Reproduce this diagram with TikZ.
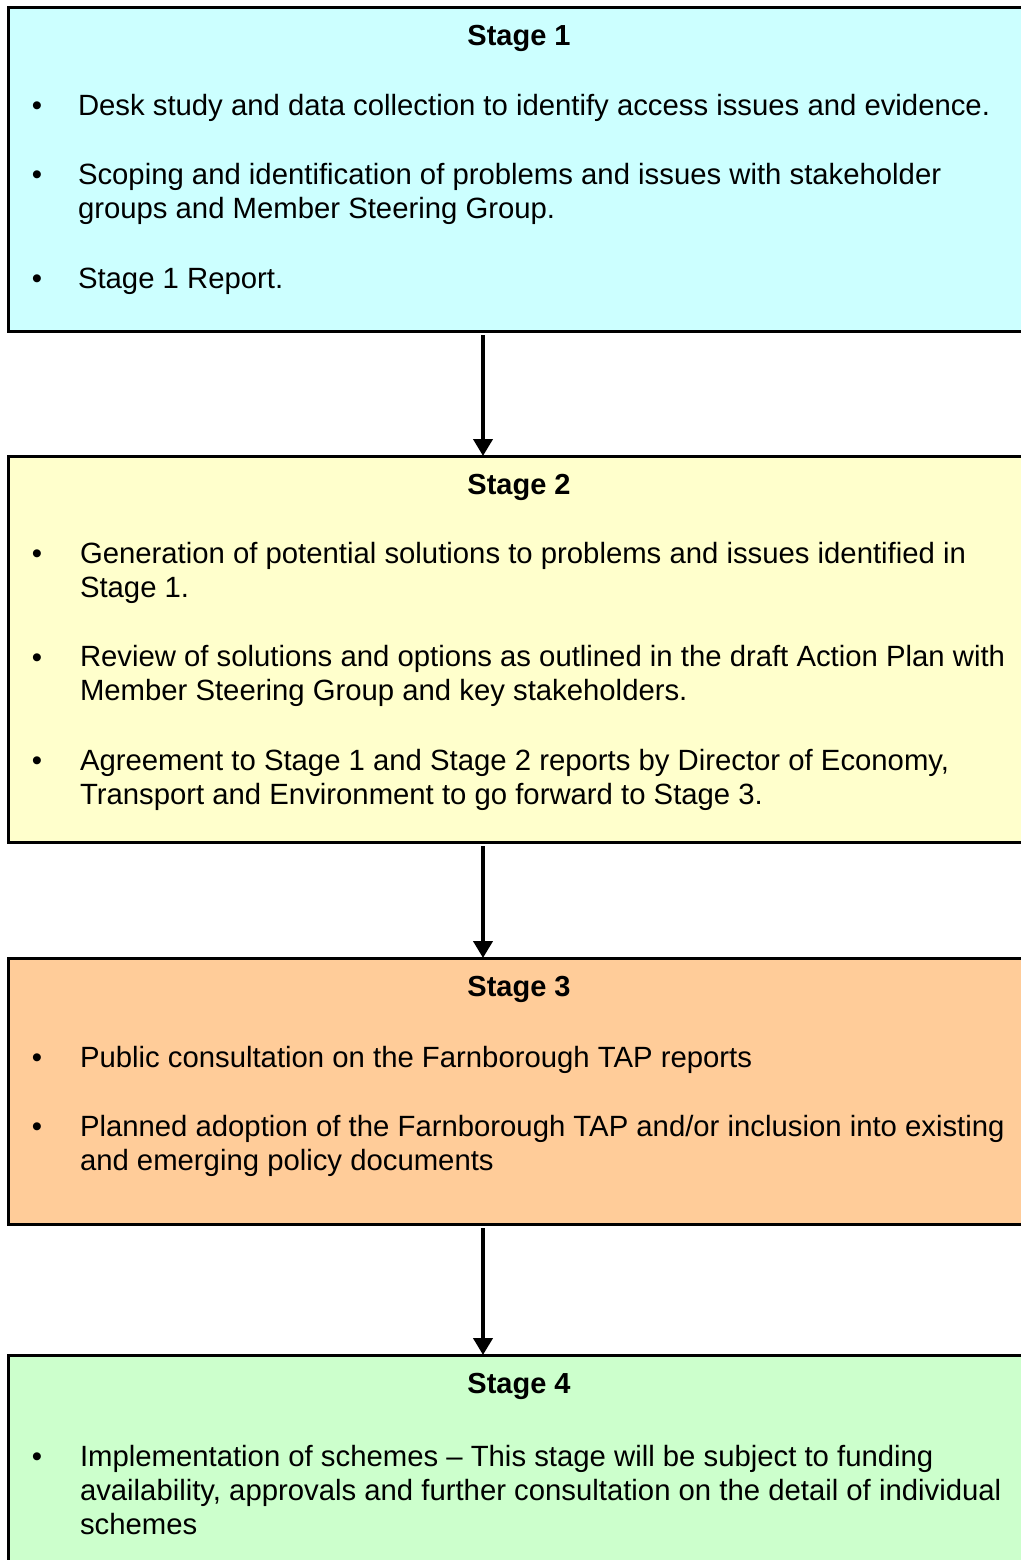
\documentclass[tikz,border=0pt]{standalone}
\usepackage{fontspec}
\setmainfont{Liberation Sans}
\usetikzlibrary{arrows.meta,fit}

\definecolor{stageone}{HTML}{CCFFFF}
\definecolor{stagetwo}{HTML}{FFFFCC}
\definecolor{stagethree}{HTML}{FFCC99}
\definecolor{stagefour}{HTML}{CCFFCC}

% bullet at first baseline, text anchored at its last baseline
\newcommand{\bitem}[5]{%
  \node[bullet] (#1b) at (37,#3) {\textbullet};
  \node[itemtext] (#1) at (#2,#4) {#5};}

\begin{document}
\begin{tikzpicture}[x=0.5pt, y=-0.5pt,
  every node/.style = {inner sep=0, outer sep=0},
  stagebox/.style = {draw, line width=1.5pt},
  title/.style = {anchor=base, font=\fontsize{14.5}{17}\selectfont\bfseries},
  bullet/.style = {anchor=base, font=\fontsize{14.65}{17}\selectfont},
  itemtext/.style = {anchor=base west, align=left,
    font=\fontsize{14.65}{17}\selectfont},
  flow/.style = {line width=2pt, -{Triangle[width=9.5pt,length=8.5pt]}}]
  \useasboundingbox (0,0) rectangle (1021,1560);

  % stage boxes
  \draw[stagebox, fill=stageone] (8,7) rectangle (1030,331);
  \draw[stagebox, fill=stagetwo] (8,456) rectangle (1030,842);
  \draw[stagebox, fill=stagethree] (8,958) rectangle (1030,1224);
  \draw[stagebox, fill=stagefour] (8,1355) rectangle (1030,1575);
  \node[fit={(8,7) (1030,331)}] (stage1) {};
  \node[fit={(8,456) (1030,842)}] (stage2) {};
  \node[fit={(8,958) (1030,1224)}] (stage3) {};
  \node[fit={(8,1355) (1030,1575)}] (stage4) {};

  % Stage 1
  \node[title] (t1) at (519,45) {Stage 1};
  \bitem{s1a}{78}{115}{115}{Desk study and data collection to identify access issues and evidence.}
  \bitem{s1b}{78}{184}{218}{Scoping and identification of problems and issues with stakeholder\\groups and Member Steering Group.}
  \bitem{s1c}{78}{288}{288}{Stage 1 Report.}

  % Stage 2
  \node[title] (t2) at (519,494) {Stage 2};
  \bitem{s2a}{80}{563}{597}{Generation of potential solutions to problems and issues identified in\\Stage 1.}
  \bitem{s2b}{80}{667}{700}{Review of solutions and options as outlined in the draft Action Plan with\\Member Steering Group and key stakeholders.}
  \bitem{s2c}{80}{770}{804}{Agreement to Stage 1 and Stage 2 reports by Director of Economy,\\Transport and Environment to go forward to Stage 3.}

  % Stage 3
  \node[title] (t3) at (519,996) {Stage 3};
  \bitem{s3a}{80}{1067}{1067}{Public consultation on the Farnborough TAP reports}
  \bitem{s3b}{80}{1136}{1170}{Planned adoption of the Farnborough TAP and/or inclusion into existing\\and emerging policy documents}

  % Stage 4
  \node[title] (t4) at (519,1393) {Stage 4};
  \bitem{s4a}{80}{1466}{1534}{Implementation of schemes -- This stage will be subject to funding\\availability, approvals and further consultation on the detail of individual\\schemes}

  % arrows
  \draw[flow] ([yshift=-2pt]stage1.south -| 483,0) -- (stage2.north -| 483,0);
  \draw[flow] ([yshift=-2pt]stage2.south -| 483,0) -- (stage3.north -| 483,0);
  \draw[flow] ([yshift=-2pt]stage3.south -| 483,0) -- (stage4.north -| 483,0);
\end{tikzpicture}
\end{document}
